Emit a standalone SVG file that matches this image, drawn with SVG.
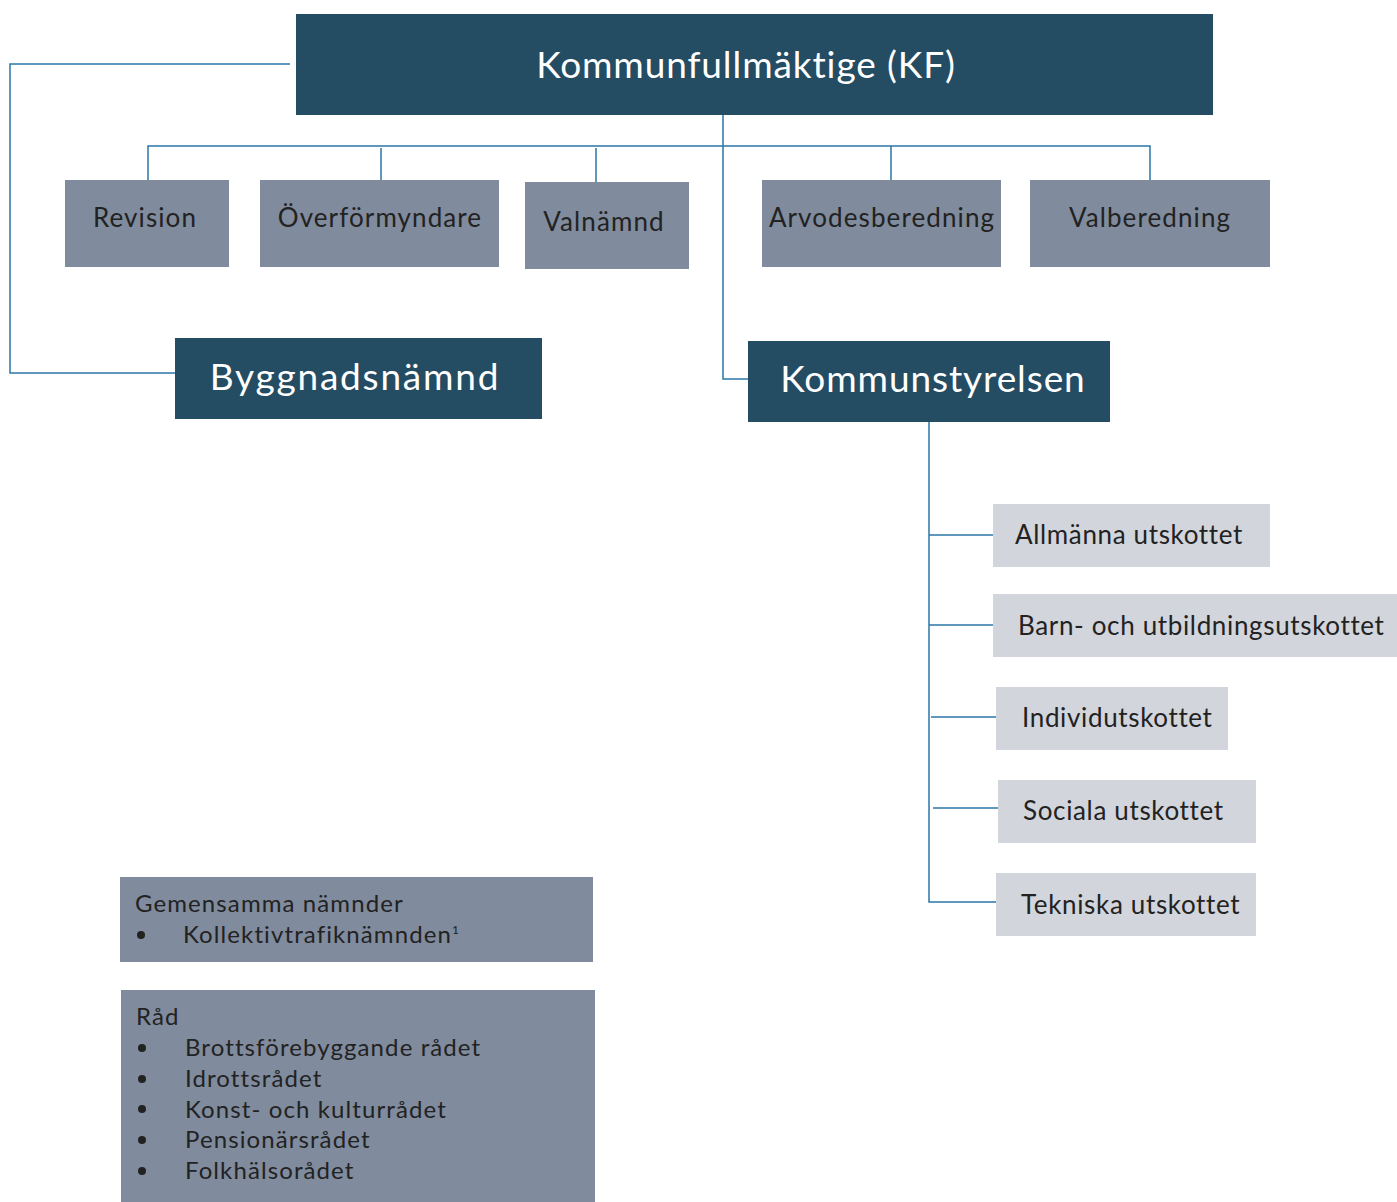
<svg xmlns="http://www.w3.org/2000/svg" width="1397" height="1202" viewBox="0 0 1397 1202">
<style>
.dark{fill:#244c63}
.mid{fill:#808b9d}
.light{fill:#d2d5dc}
.tw{font-family:Lato,"Open Sans",sans-serif;fill:#ffffff;font-size:37px;text-anchor:middle;letter-spacing:0.9px}
.tm{font-family:Lato,"Open Sans",sans-serif;fill:#222222;font-size:26px;text-anchor:middle;letter-spacing:1.1px}
.tl{font-family:Lato,"Open Sans",sans-serif;fill:#222222;font-size:26px;letter-spacing:0.65px}
.tb{font-family:Lato,"Open Sans",sans-serif;fill:#222222;font-size:24px;letter-spacing:1.1px}
.c{fill:none;stroke:#2b77a6;stroke-width:1.5}
</style>
<rect width="1397" height="1202" fill="#ffffff"/>
<g id="connectors">
<path class="c" d="M290 64 H10 V373 H175"/>
<path class="c" d="M723 115 V379 H748"/>
<path class="c" d="M148 183 V146 H1150 V180"/>
<path class="c" d="M381 148 V180 M596 148 V182 M891 146 V180"/>
<path class="c" d="M929 422 V902 H996"/>
<path class="c" d="M929 535 H993 M929 625 H996 M931 717 H996 M933 808 H998"/>
</g>
<g id="kf"><rect class="dark" x="296" y="14" width="917" height="101"/><text class="tw" x="746" y="78">Kommunfullmäktige (KF)</text></g>
<g id="revision"><rect class="mid" x="65" y="180" width="164" height="87"/><text class="tm" x="145" y="227">Revision</text></g>
<g id="overformyndare"><rect class="mid" x="260" y="180" width="239" height="87"/><text class="tm" x="380" y="227">Överförmyndare</text></g>
<g id="valnamnd"><rect class="mid" x="525" y="182" width="164" height="87"/><text class="tm" x="604" y="231">Valnämnd</text></g>
<g id="arvodesberedning"><rect class="mid" x="762" y="180" width="239" height="87"/><text class="tm" x="882" y="227">Arvodesberedning</text></g>
<g id="valberedning"><rect class="mid" x="1030" y="180" width="240" height="87"/><text class="tm" x="1150" y="227">Valberedning</text></g>
<g id="byggnadsnamnd"><rect class="dark" x="175" y="338" width="367" height="81"/><text class="tw" x="355" y="390" style="letter-spacing:1.8px">Byggnadsnämnd</text></g>
<g id="kommunstyrelsen"><rect class="dark" x="748" y="341" width="362" height="81"/><text class="tw" x="933" y="392">Kommunstyrelsen</text></g>
<g id="allmanna"><rect class="light" x="993" y="504" width="277" height="63"/><text class="tl" x="1015" y="544">Allmänna utskottet</text></g>
<g id="barn"><rect class="light" x="993" y="594" width="404" height="63"/><text class="tl" x="1018" y="635">Barn- och utbildningsutskottet</text></g>
<g id="individ"><rect class="light" x="996" y="687" width="232" height="63"/><text class="tl" x="1022" y="727">Individutskottet</text></g>
<g id="sociala"><rect class="light" x="998" y="780" width="258" height="63"/><text class="tl" x="1023" y="820">Sociala utskottet</text></g>
<g id="tekniska"><rect class="light" x="996" y="873" width="260" height="63"/><text class="tl" x="1021" y="914">Tekniska utskottet</text></g>
<g id="gemensamma"><rect class="mid" x="120" y="877" width="473" height="85"/>
<text class="tb" x="135" y="912">Gemensamma nämnder</text>
<circle cx="141" cy="935" r="4" fill="#222"/>
<text class="tb" x="183" y="943">Kollektivtrafiknämnden<tspan font-size="12" dy="-9">1</tspan></text></g>
<g id="rad"><rect class="mid" x="121" y="990" width="474" height="212"/>
<text class="tb" x="136" y="1025">Råd</text>
<g fill="#222"><circle cx="142" cy="1048" r="4"/><circle cx="142" cy="1079" r="4"/><circle cx="142" cy="1109" r="4"/><circle cx="142" cy="1140" r="4"/><circle cx="142" cy="1171" r="4"/></g>
<text class="tb" x="185" y="1056">Brottsförebyggande rådet</text>
<text class="tb" x="185" y="1087">Idrottsrådet</text>
<text class="tb" x="185" y="1118">Konst- och kulturrådet</text>
<text class="tb" x="185" y="1148">Pensionärsrådet</text>
<text class="tb" x="185" y="1179">Folkhälsorådet</text>
</g>
</svg>
